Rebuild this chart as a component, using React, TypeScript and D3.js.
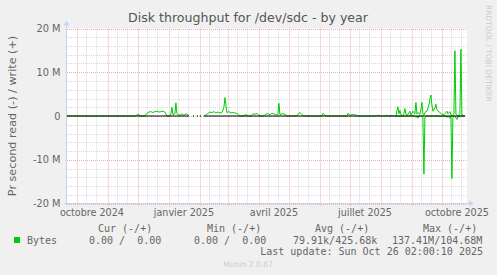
import React from 'react';
import * as d3 from 'd3';

const W = 497;
const H = 275;

const rangeStart = '2024-09-21 02:00';
const rangeEnd = '2025-10-26 02:00';

// write throughput (M bytes/s); null = unknown
const dates: string[] = [
  '2024-09-21', '2024-11-29', '2024-11-30', '2024-12-02', '2024-12-03', '2024-12-08', '2024-12-10', '2024-12-12', '2024-12-14', '2024-12-16',
  '2024-12-18', '2024-12-20', '2024-12-22', '2024-12-24', '2024-12-26', '2024-12-28', '2024-12-30', '2025-01-02', '2025-01-03', '2025-01-04',
  '2025-01-05', '2025-01-07', '2025-01-08', '2025-01-09', '2025-01-10', '2025-01-12', '2025-01-14', '2025-01-16', '2025-01-18', '2025-01-20',
  '2025-01-21', '2025-01-22', '2025-01-25', '2025-01-26', '2025-01-27', '2025-01-29', '2025-01-30', '2025-01-31', '2025-02-01', '2025-02-02',
  '2025-02-03', '2025-02-05', '2025-02-07', '2025-02-09', '2025-02-11', '2025-02-13', '2025-02-15', '2025-02-17', '2025-02-19', '2025-02-21',
  '2025-02-23', '2025-02-25', '2025-02-26', '2025-02-27', '2025-02-28', '2025-03-02', '2025-03-04', '2025-03-06', '2025-03-08', '2025-03-10',
  '2025-03-12', '2025-03-13', '2025-03-17', '2025-03-18', '2025-03-20', '2025-03-21', '2025-03-24', '2025-03-26', '2025-03-28', '2025-03-30',
  '2025-04-01', '2025-04-02', '2025-04-06', '2025-04-08', '2025-04-10', '2025-04-12', '2025-04-14', '2025-04-16', '2025-04-18', '2025-04-20',
  '2025-04-21', '2025-04-22', '2025-04-24', '2025-04-26', '2025-04-28', '2025-04-29', '2025-05-09', '2025-05-10', '2025-05-12', '2025-05-14',
  '2025-05-16', '2025-06-03', '2025-06-04', '2025-06-06', '2025-06-08', '2025-06-28', '2025-06-29', '2025-07-01', '2025-07-03', '2025-07-06',
  '2025-07-09', '2025-07-28', '2025-07-29', '2025-07-31', '2025-08-06', '2025-08-07', '2025-08-08', '2025-08-11', '2025-08-12', '2025-08-13',
  '2025-08-16', '2025-08-17', '2025-08-18', '2025-08-19', '2025-08-20', '2025-08-21', '2025-08-22', '2025-08-24', '2025-08-25', '2025-08-26',
  '2025-08-28', '2025-08-30', '2025-08-31', '2025-09-02', '2025-09-04', '2025-09-05', '2025-09-06', '2025-09-07', '2025-09-09', '2025-09-10',
  '2025-09-11', '2025-09-12', '2025-09-13', '2025-09-14', '2025-09-16', '2025-09-18', '2025-09-19', '2025-09-20', '2025-09-21', '2025-09-22',
  '2025-09-24', '2025-09-25', '2025-09-26', '2025-09-27', '2025-09-29', '2025-10-01', '2025-10-03', '2025-10-05', '2025-10-06', '2025-10-07',
  '2025-10-09', '2025-10-10', '2025-10-11', '2025-10-13', '2025-10-14', '2025-10-15', '2025-10-17', '2025-10-19', '2025-10-20', '2025-10-21',
  '2025-10-24',
];
const writeM: (number | null)[] = [
  0, 0, 0.3, 0.3, 0, 0, 0.6, 0.9, 1.0, 0.8,
  1.0, 1.1, 0.9, 1.0, 1.1, 0.9, 0, 0, 0.5, 2.0,
  0.3, 0.5, 3.0, 0.6, 0.3, 0.2, 0.5, 0.2, 0.5, 0.3,
  0, null, 0, 0, null, 0, 0, null, 0, 0,
  null, 0, 0.2, 0.6, 0.9, 0.8, 1.0, 0.7, 0.9, 0.7,
  0.8, 2.0, 4.2, 2.5, 0.8, 1.0, 0.7, 0.8, 0.7, 0.6,
  0.2, 0, 0, 0.3, 0.2, 0, 0, 0.5, 0.4, 0.6,
  0.2, 0, 0, 0.5, 0.5, 0.3, 0.6, 0.5, 0.2, 0.4,
  2.9, 0.3, 0.5, 0.5, 0.2, 0, 0, 0.4, 0.8, 0.3,
  0, 0, 0.6, 0.2, 0, 0, 0.6, 0.2, 0.3, 0.3,
  0, 0, 0.2, 0, 0, 0.2, 0, 0, 0.2, 0,
  0, 1.2, 2.1, 0.5, 1.3, 0.3, 0, 0.5, 1.7, 0.4,
  0.3, 1.1, 0.2, 1.1, 0.5, 3.1, 0.5, 0.8, 0.4, 1.5,
  3.1, 0.4, 0.2, 0.8, 1.1, 2.5, 3.8, 4.8, 2.5, 1.1,
  1.9, 2.7, 1.5, 1.2, 0.8, 0.4, 0.3, 0.8, 1.1, 0.5,
  1.0, 0.3, 0, 0.3, 14.9, 0.4, 0, 0.5, 15.3, 0.2,
  0,
];

// read throughput (M bytes/s), drawn below zero
const readDates: string[] = [
  '2025-08-16', '2025-09-04', '2025-09-05', '2025-09-06', '2025-09-07', '2025-09-08', '2025-09-11', '2025-09-12', '2025-09-13', '2025-09-14',
  '2025-09-16', '2025-09-28', '2025-09-29', '2025-09-30', '2025-10-05', '2025-10-06', '2025-10-07', '2025-10-09', '2025-10-10', '2025-10-11',
  '2025-10-12', '2025-10-14', '2025-10-16', '2025-10-17', '2025-10-18', '2025-10-19', '2025-10-24',
];
const readM: number[] = [
  0, 0, 0.3, 0, 0.5, 0, 0, 0.4, 13.3, 0.3,
  0, 0, 0.2, 0, 0, 0.3, 0, 0.5, 0, 14.3,
  0.3, 0, 0.8, 0, 0.3, 0, 0,
];

const yMajorTicks = [-20, -10, 0, 10, 20];
const yTickLabels = ['-20 M', '-10 M', '0', '10 M', '20 M'];
const xLabelMonths = ['2024-10-01', '2025-01-01', '2025-04-01', '2025-07-01', '2025-10-01'];
const xLabels = ['octobre 2024', 'janvier 2025', 'avril 2025', 'juillet 2025', 'octobre 2025'];
const legendHeaders = ['Cur (-/+)', 'Min (-/+)', 'Avg (-/+)', 'Max (-/+)'];
const legendValues = ['0.00 /  0.00', '0.00 /  0.00', '79.91k/425.68k', '137.41M/104.68M'];
const seriesName = 'Bytes';
const title = 'Disk throughput for /dev/sdc - by year';
const yTitle = 'Pr second read (-) / write (+)';
const lastUpdate = 'Last update: Sun Oct 26 02:00:10 2025';

const parseDay = d3.timeParse('%Y-%m-%d');
const parseTime = d3.timeParse('%Y-%m-%d %H:%M');

const PL = 67, PR = 467, PT = 28.5, PB = 203.5;
const GREEN = '#00cc00';
const FONT = 'DejaVu Sans, sans-serif';
const MONO = 'DejaVu Sans Mono, monospace';

const keepSpaces = (s: string) => s.replace(/ {2}/g, ' \u00a0');

export default function App() {
  const x = d3.scaleTime().domain([parseTime(rangeStart)!, parseTime(rangeEnd)!]).range([PL, PR]);
  const y = d3.scaleLinear().domain([-20e6, 20e6]).range([PB, PT]);

  const writePts = dates.map((d, i) => ({ t: parseDay(d)!, v: writeM[i] }));
  const readPts = readDates.map((d, i) => ({ t: parseDay(d)!, v: readM[i] }));

  const writeLine = d3.line<{ t: Date; v: number | null }>()
    .defined((p) => p.v !== null)
    .x((p) => x(p.t))
    .y((p) => y((p.v as number) * 1e6));
  const readLine = d3.line<{ t: Date; v: number }>()
    .x((p) => x(p.t))
    .y((p) => y(-p.v * 1e6));
  const zeroLine = d3.line<{ t: Date; v: number | null }>()
    .defined((p) => p.v !== null)
    .x((p) => x(p.t))
    .y(() => y(0));

  const [d0, d1] = x.domain();
  const monthStarts = d3.timeMonth.range(d3.timeMonth.ceil(d0), d1);
  const minorDays: Date[] = [];
  d3.timeMonth.range(d3.timeMonth.floor(d0), d1).forEach((m) => {
    [10, 20].forEach((day) => {
      const dt = new Date(m.getFullYear(), m.getMonth(), day);
      if (dt > d0 && dt < d1) minorDays.push(dt);
    });
  });
  const yMinor = d3.range(-20, 21, 2).filter((v) => v % 10 !== 0);

  const gridMajor = '#eab0b0';
  const gridMinor = '#d8d8d8';
  const axisColor = '#c8d0f4';

  return (
    <svg width={W} height={H} style={{ position: 'absolute', left: 0, top: 0 }} fontFamily={FONT}>
      <rect x={0} y={0} width={W} height={H} fill="#f0f0f0" />
      <rect x={PL} y={PT} width={PR - PL} height={PB - PT} fill="#ffffff" />

      {/* minor grid */}
      {yMinor.map((v) => (
        <line key={'ym' + v} x1={PL} x2={PR} y1={Math.round(y(v * 1e6)) + 0.5} y2={Math.round(y(v * 1e6)) + 0.5}
          stroke={gridMinor} strokeDasharray="1,1" strokeWidth={1} />
      ))}
      {minorDays.map((d, i) => (
        <line key={'xm' + i} x1={Math.round(x(d)) + 0.5} x2={Math.round(x(d)) + 0.5} y1={PT} y2={PB}
          stroke={gridMinor} strokeDasharray="1,1" strokeWidth={1} />
      ))}
      {/* major grid */}
      {yMajorTicks.map((v) => (
        <line key={'yM' + v} x1={PL} x2={PR} y1={Math.round(y(v * 1e6)) + 0.5} y2={Math.round(y(v * 1e6)) + 0.5}
          stroke={gridMajor} strokeDasharray="1,1" strokeWidth={1} />
      ))}
      {monthStarts.map((d, i) => (
        <line key={'xM' + i} x1={Math.round(x(d)) + 0.5} x2={Math.round(x(d)) + 0.5} y1={PT} y2={PB + 2}
          stroke={gridMajor} strokeDasharray="1,1" strokeWidth={1} />
      ))}

      {/* axes */}
      <line x1={PL - 0.5} x2={PL - 0.5} y1={PB + 2} y2={PT - 4} stroke={axisColor} strokeWidth={1} />
      <path d={`M${PL - 3.5},${PT - 3} L${PL + 2.5},${PT - 3} L${PL - 0.5},${PT - 8} Z`} fill={axisColor} />
      <line x1={PL - 3} x2={PR + 3} y1={PB} y2={PB} stroke={axisColor} strokeWidth={1} />
      <path d={`M${PR + 2},${PB - 3} L${PR + 2},${PB + 3} L${PR + 7},${PB} Z`} fill={axisColor} />

      {/* data */}
      <path d={readLine(readPts) || ''} fill="none" stroke={GREEN} strokeWidth={1} />
      <path d={writeLine(writePts) || ''} fill="none" stroke={GREEN} strokeWidth={1} />
      <path d={zeroLine(writePts) || ''} fill="none" stroke="#000000" strokeWidth={1.2} />

      {/* y tick labels */}
      {yMajorTicks.map((v, i) => (
        <text key={'yl' + v} x={60.5} y={y(v * 1e6) + 3.5} textAnchor="end" fontSize={9.8} fill="#666666">
          {yTickLabels[i]}
        </text>
      ))}
      {/* x labels */}
      {xLabelMonths.map((m, i) => {
        const s = parseDay(m)!;
        const mid = new Date(s.getTime() + 15 * 86400000);
        return (
          <text key={'xl' + i} x={x(mid)} y={215.5} textAnchor="middle" fontSize={9.6} fill="#666666">
            {xLabels[i]}
          </text>
        );
      })}

      {/* title */}
      <text x={248} y={22} textAnchor="middle" fontSize={12.6} fill="#555555">{title}</text>
      {/* y title */}
      <text transform="translate(15.5,116) rotate(-90)" textAnchor="middle" fontSize={11.2} fill="#666666">{yTitle}</text>
      {/* watermark */}
      <text transform="translate(485.5,5) rotate(90)" fontSize={7.5} fill="#cccccc">RRDTOOL / TOBI OETIKER</text>

      {/* legend */}
      <g fontFamily={MONO} fontSize={10} fill="#666666">
        {legendHeaders.map((h, i) => (
          <text key={'lh' + i} x={[98, 207, 315, 423][i]} y={231.5}>{h}</text>
        ))}
        <rect x={14} y={237} width={6} height={6} fill={GREEN} />
        <text x={27} y={243.5}>{seriesName}</text>
        {legendValues.map((v, i) => (
          <text key={'lv' + i} x={[89, 194, 293, 392][i]} y={243.5}>{keepSpaces(v)}</text>
        ))}
        <text x={483} y={254.5} textAnchor="end">{lastUpdate}</text>
      </g>
      <text x={248} y={267} textAnchor="middle" fontSize={7.6} fill="#cccccc">Munin 2.0.67</text>
    </svg>
  );
}
